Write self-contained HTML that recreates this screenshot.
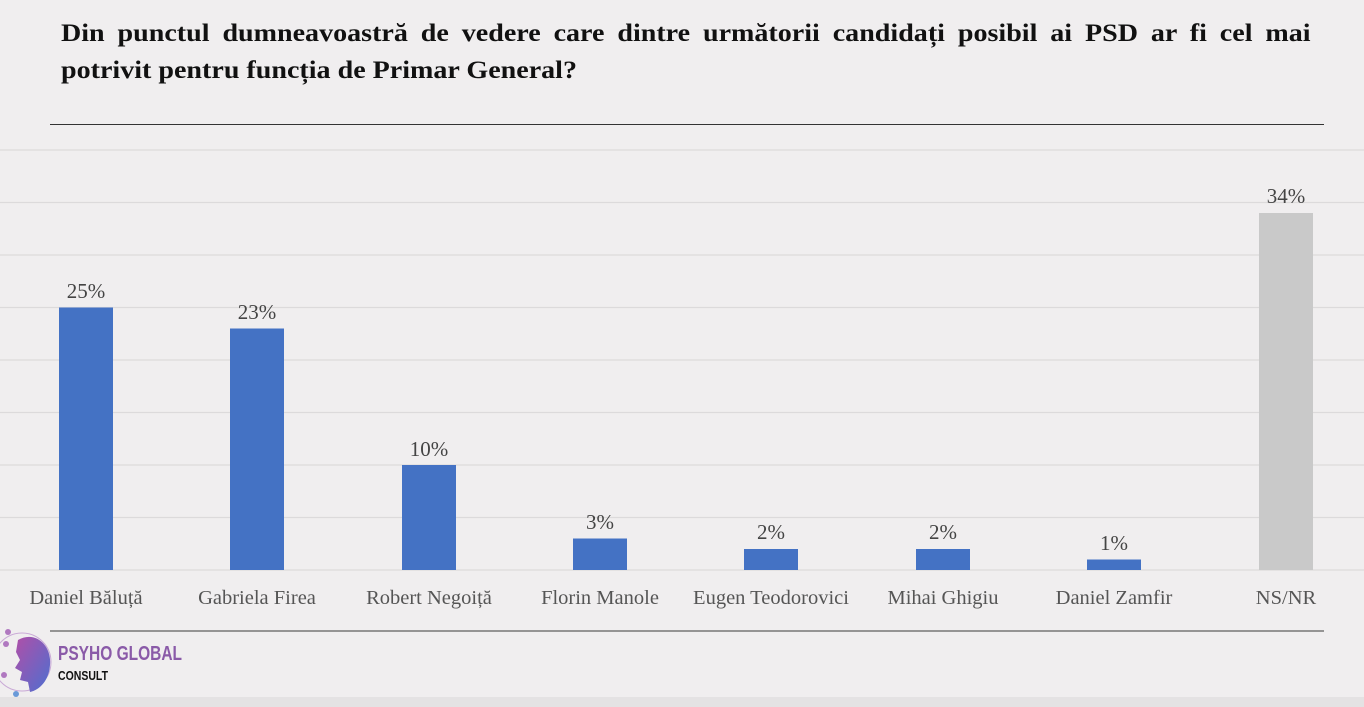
<!DOCTYPE html>
<html><head><meta charset="utf-8"><style>
body{margin:0;width:1364px;height:707px;background:#f0eeef;overflow:hidden;position:relative;font-family:"Liberation Serif",serif}
.t{position:absolute;left:61px;width:1136px;font-family:"Liberation Serif",serif;font-weight:bold;font-size:25.5px;line-height:36px;color:#111;white-space:nowrap;transform:scaleX(1.1);transform-origin:0 0}
.j{text-align:justify;text-align-last:justify;white-space:normal}
</style></head><body>
<div class="t j" style="top:15px">Din punctul dumneavoastră de vedere care dintre următorii candidați posibil ai PSD ar fi cel mai</div>
<div class="t" style="top:52px">potrivit pentru funcția de Primar General?</div>
<svg width="1364" height="707" style="position:absolute;left:0;top:0">
<line x1="50" y1="124.5" x2="1324" y2="124.5" stroke="#333" stroke-width="1"/>
<g stroke="#dcdadb" stroke-width="1.3">
<line x1="0" y1="150" x2="1364" y2="150"/><line x1="0" y1="202.5" x2="1364" y2="202.5"/><line x1="0" y1="255" x2="1364" y2="255"/><line x1="0" y1="307.5" x2="1364" y2="307.5"/><line x1="0" y1="360" x2="1364" y2="360"/><line x1="0" y1="412.5" x2="1364" y2="412.5"/><line x1="0" y1="465" x2="1364" y2="465"/><line x1="0" y1="517.5" x2="1364" y2="517.5"/><line x1="0" y1="570" x2="1364" y2="570"/>
</g>
<g fill="#4472c4">
<rect x="59" y="307.5" width="54" height="262.5"/>
<rect x="230" y="328.5" width="54" height="241.5"/>
<rect x="402" y="465" width="54" height="105"/>
<rect x="573" y="538.5" width="54" height="31.5"/>
<rect x="744" y="549" width="54" height="21"/>
<rect x="916" y="549" width="54" height="21"/>
<rect x="1087" y="559.5" width="54" height="10.5"/>
</g>
<rect x="1259" y="213" width="54" height="357" fill="#c9c9c9"/>
<g font-size="21" fill="#444" text-anchor="middle" font-family="Liberation Serif,serif">
<text x="86" y="298">25%</text><text x="257" y="319">23%</text><text x="429" y="456">10%</text><text x="600" y="529">3%</text><text x="771" y="539">2%</text><text x="943" y="539">2%</text><text x="1114" y="550">1%</text><text x="1286" y="203">34%</text>
</g>
<g font-size="20.5" fill="#555" text-anchor="middle" font-family="Liberation Serif,serif">
<text x="86" y="604">Daniel Băluță</text><text x="257" y="604">Gabriela Firea</text><text x="429" y="604">Robert Negoiță</text><text x="600" y="604">Florin Manole</text><text x="771" y="604">Eugen Teodorovici</text><text x="943" y="604">Mihai Ghigiu</text><text x="1114" y="604">Daniel Zamfir</text><text x="1286" y="604">NS/NR</text>
</g>
<line x1="50" y1="631" x2="1324" y2="631" stroke="#777" stroke-width="1.5"/>
<rect x="0" y="697" width="1364" height="10" fill="#e4e2e3"/>
<defs><linearGradient id="g" x1="0" y1="0" x2="1" y2="1"><stop offset="0" stop-color="#b04fa8"/><stop offset="1" stop-color="#4d6fd0"/></linearGradient></defs>
<circle cx="22" cy="662" r="29" fill="none" stroke="#c9a9d6" stroke-width="1"/>
<path d="M18 640 C35 630 52 645 50 665 C49 680 40 690 30 692 L28 682 L20 680 L22 672 L15 668 L20 660 L16 652 Z" fill="url(#g)"/>
<g fill="#b078c0"><circle cx="8" cy="632" r="3"/><circle cx="6" cy="644" r="3"/><circle cx="4" cy="675" r="3"/><circle cx="16" cy="694" r="3" fill="#6a9ad8"/></g>
<text x="58" y="660" font-family="Liberation Sans,sans-serif" font-weight="bold" font-size="20" fill="#8a5aa8" textLength="124" lengthAdjust="spacingAndGlyphs">PSYHO GLOBAL</text>
<text x="58" y="680" font-family="Liberation Sans,sans-serif" font-weight="bold" font-size="13" fill="#111" textLength="50" lengthAdjust="spacingAndGlyphs">CONSULT</text>
</svg>
</body></html>
